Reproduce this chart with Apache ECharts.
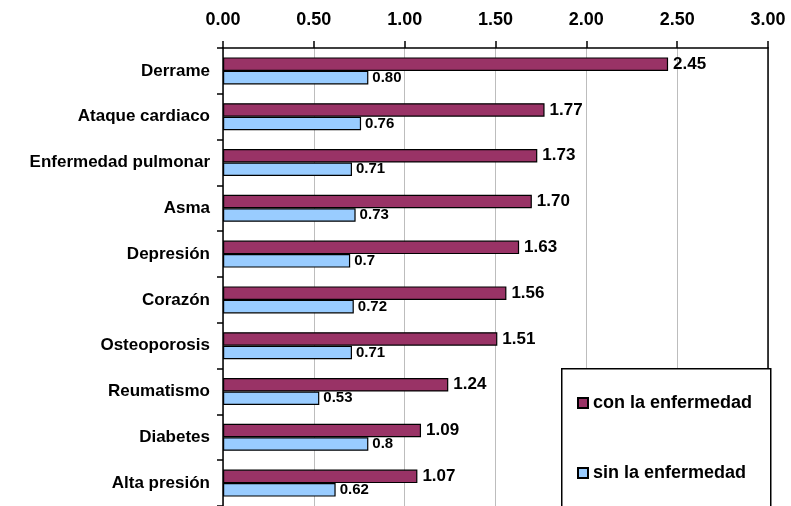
<!DOCTYPE html>
<html>
<head>
<meta charset="utf-8">
<script src="https://cdn.jsdelivr.net/npm/echarts@6/dist/echarts.min.js"></script>
<style>html,body{margin:0;padding:0;background:#fff}#c{width:791px;height:506px}</style>
</head>
<body>
<div id="c"></div>
<script>
var categories = ['Derrame', 'Ataque cardiaco', 'Enfermedad pulmonar', 'Asma', 'Depresión', 'Corazón', 'Osteoporosis', 'Reumatismo', 'Diabetes', 'Alta presión'];
var conValues = [2.45, 1.77, 1.73, 1.70, 1.63, 1.56, 1.51, 1.24, 1.09, 1.07];
var sinValues = [0.80, 0.76, 0.71, 0.73, 0.7, 0.72, 0.71, 0.53, 0.8, 0.62];
var conLabels = ['2.45', '1.77', '1.73', '1.70', '1.63', '1.56', '1.51', '1.24', '1.09', '1.07'];
var sinLabels = ['0.80', '0.76', '0.71', '0.73', '0.7', '0.72', '0.71', '0.53', '0.8', '0.62'];
var tickLabels = ['0.00', '0.50', '1.00', '1.50', '2.00', '2.50', '3.00'];
var seriesNames = ['con la enfermedad', 'sin la enfermedad'];

var FONT = '"Liberation Sans", Arial, sans-serif';
var chart = echarts.init(document.getElementById('c'), null, {renderer: 'canvas'});
chart.setOption({
  animation: false,
  textStyle: {fontFamily: FONT},
  grid: {left: 223, right: 23, top: 48, bottom: 0, containLabel: false},
  xAxis: {
    type: 'value', position: 'top', min: 0, max: 3, interval: 0.5,
    axisLine: {show: true, lineStyle: {color: '#000', width: 1.5}},
    axisTick: {show: true, length: 7, lineStyle: {color: '#000', width: 1.5}},
    axisLabel: {
      margin: 19, color: '#000', fontWeight: 'bold', fontSize: 18, fontFamily: FONT,
      formatter: function (v) { return tickLabels[Math.round(v / 0.5)]; }
    },
    splitLine: {show: true, lineStyle: {color: '#bdbdbd', width: 1}}
  },
  yAxis: [{
    type: 'category', data: categories, inverse: true,
    axisLine: {show: true, lineStyle: {color: '#000', width: 1.5}},
    axisTick: {show: true, length: 6, lineStyle: {color: '#000', width: 1.5}},
    axisLabel: {margin: 13, color: '#000', fontWeight: 'bold', fontSize: 17, fontFamily: FONT, padding: [4, 0, 0, 0]}
  }, {
    type: 'category', data: categories, inverse: true, position: 'right',
    axisLine: {show: true, lineStyle: {color: '#000', width: 1.5}},
    axisTick: {show: false}, axisLabel: {show: false}
  }],
  graphic: [{
    type: 'rect', left: 561, top: 368, z: 50,
    shape: {width: 209, height: 160},
    style: {fill: '#fff', stroke: '#000', lineWidth: 1.5}
  }],
  legend: {
    orient: 'vertical', left: 561, top: 368, z: 60,
    data: seriesNames,
    padding: [26, 10, 4, 16], itemGap: 52, itemWidth: 10, itemHeight: 10,
    icon: 'rect',
    textStyle: {color: '#000', fontWeight: 'bold', fontSize: 18, fontFamily: FONT, padding: [0, 0, 0, 0]}
  },
  series: [{
    name: seriesNames[0], type: 'bar', data: conValues,
    barGap: '0%', barCategoryGap: '41%',
    itemStyle: {color: '#993366', borderColor: '#000', borderWidth: 1.2},
    label: {show: true, position: 'right', distance: 5, color: '#000', fontWeight: 'bold', fontSize: 17, fontFamily: FONT,
      formatter: function (p) { return conLabels[p.dataIndex]; }}
  }, {
    name: seriesNames[1], type: 'bar', data: sinValues,
    itemStyle: {color: '#99ccff', borderColor: '#000', borderWidth: 1.2},
    label: {show: true, position: 'right', distance: 4, color: '#000', fontWeight: 'bold', fontSize: 15, fontFamily: FONT,
      formatter: function (p) { return sinLabels[p.dataIndex]; }}
  }]
});
</script>
</body>
</html>
